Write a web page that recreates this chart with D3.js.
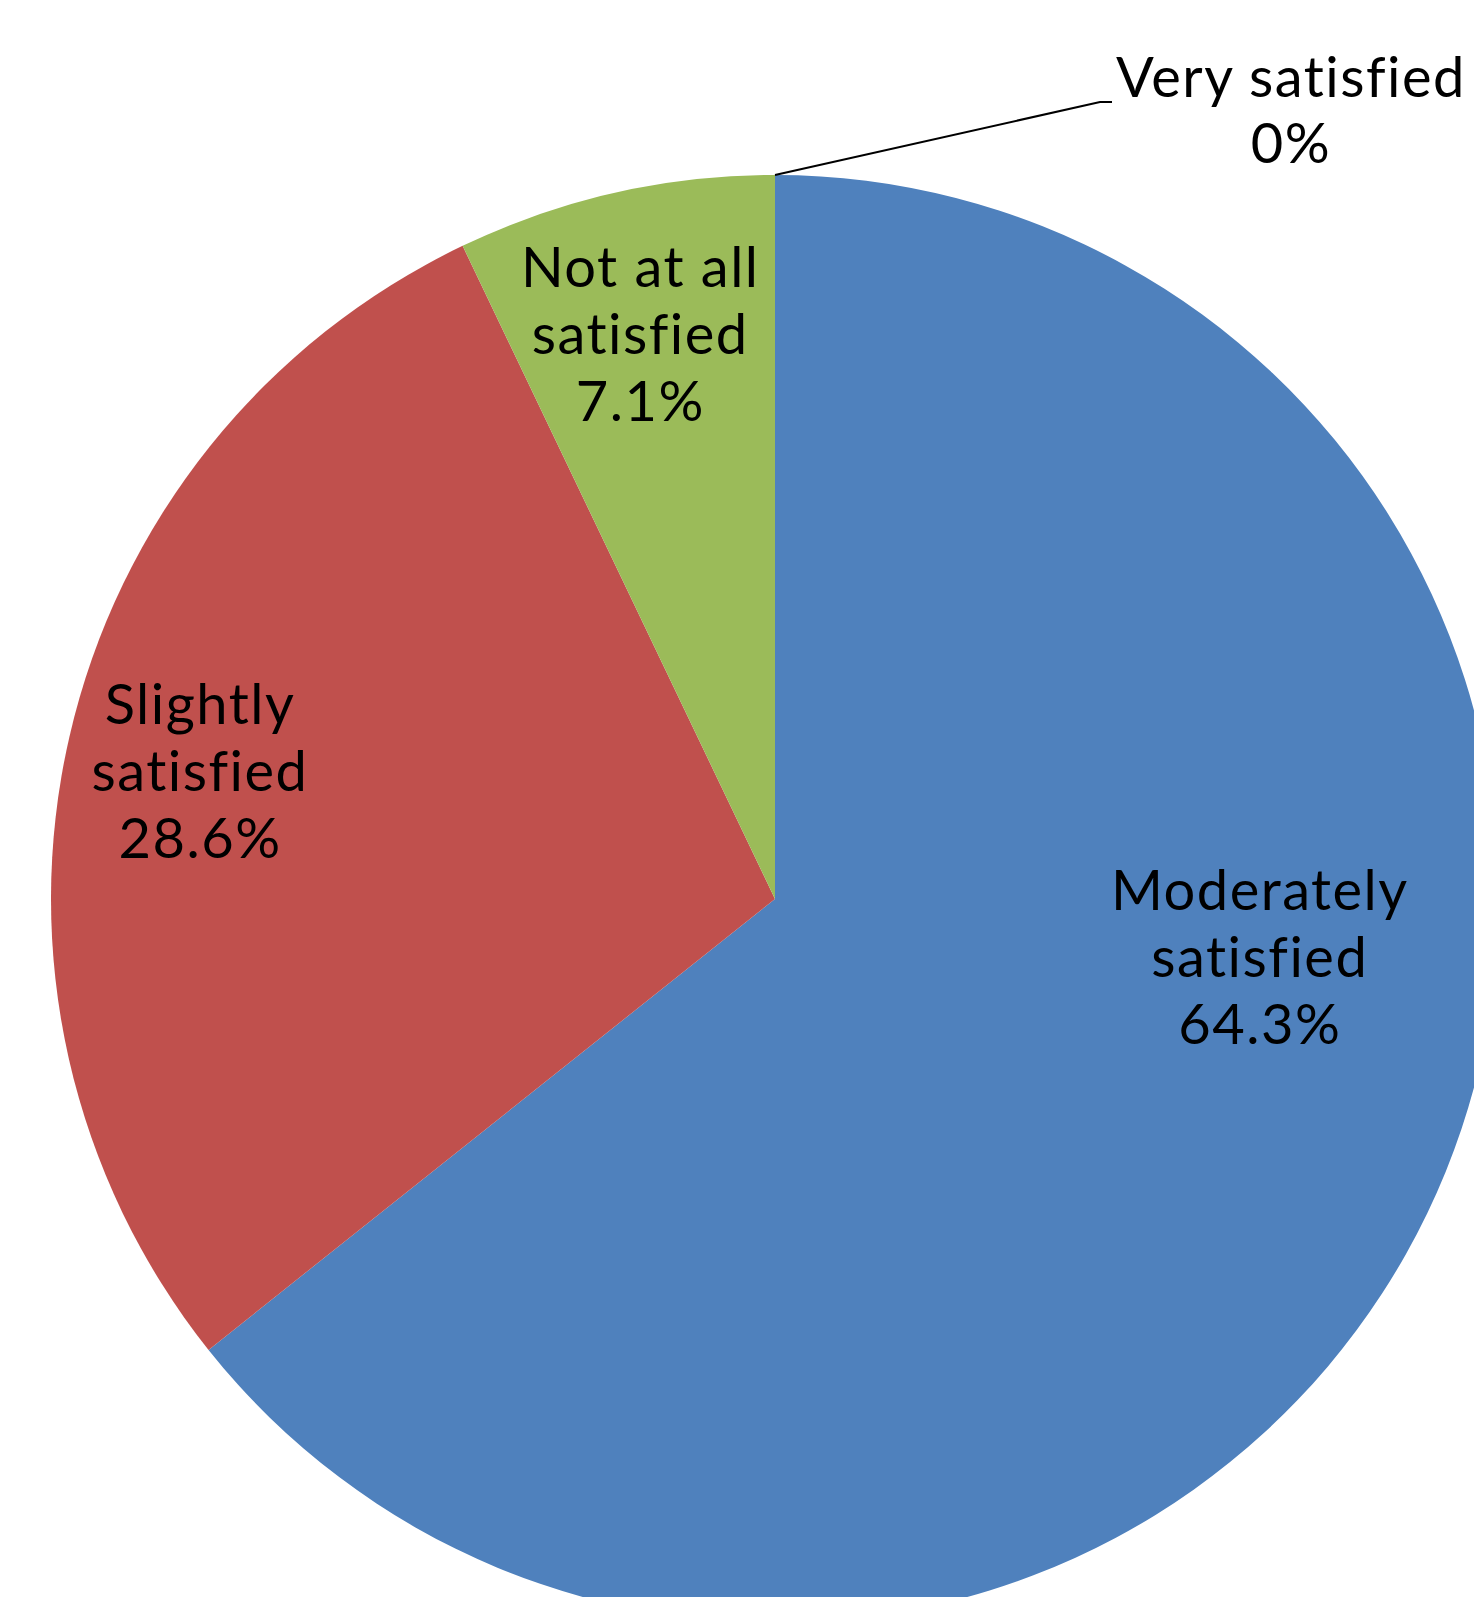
<!DOCTYPE html>
<html>
<head>
<meta charset="utf-8">
<script src="https://cdn.jsdelivr.net/npm/d3@7"></script>
<style>
    body { margin: 0; background: #fff; }
    svg { display: block; }
    .label {
        font-family: Lato, "Liberation Sans", sans-serif;
        font-size: 56px;
        letter-spacing: 1.5px;
        font-variant-ligatures: none;
        fill: #000;
    }
</style>
</head>
<body>
<div id="chart"></div>
<script>
// 数据
const categories = ['Moderately satisfied', 'Slightly satisfied', 'Not at all satisfied', 'Very satisfied'];
const values = [64.3, 28.6, 7.1, 0];
const labelLines = [['Moderately', 'satisfied'], ['Slightly', 'satisfied'], ['Not at all', 'satisfied'], ['Very satisfied']];
const colors = ['#4F81BD', '#C0504D', '#9BBB59', '#8064A2'];

// 布局
const width = 1474;
const height = 1597;
const cx = 775, cy = 899, radius = 724;
const lineGap = 67;
// label anchor (middle line baseline) in polar coords: angle in degrees, distance in px
const labelPolar = [
    {angle: 99.1, dist: 491},
    {angle: 280.6, dist: 585},
    {angle: 346.1, dist: 561},
    null
];
// callout for the 0% slice
const callout = {elbow: [325, -73], end: [337, -73], textX: 516, textY: -78, gap: 66};

const svg = d3.select('#chart').append('svg')
    .attr('width', width)
    .attr('height', height);

const g = svg.append('g')
    .attr('transform', `translate(${cx},${cy})`);

const pie = d3.pie().sort(null).value(d => d);
const arcs = pie(values);

const arc = d3.arc().innerRadius(0).outerRadius(radius);

g.selectAll('.slice')
    .data(arcs)
    .enter()
    .append('path')
    .attr('class', 'slice')
    .attr('d', arc)
    .attr('fill', (d, i) => colors[i]);

const fmt = v => (v === 0 ? '0' : d3.format('.1f')(v)) + '%';

arcs.forEach((d, i) => {
    const lines = labelLines[i].concat([fmt(values[i])]);
    if (labelPolar[i]) {
        const a = labelPolar[i].angle * Math.PI / 180;
        const x = Math.sin(a) * labelPolar[i].dist;
        const y = -Math.cos(a) * labelPolar[i].dist;
        const mid = (lines.length - 1) / 2;
        const t = g.append('text')
            .attr('class', 'label')
            .attr('text-anchor', 'middle');
        lines.forEach((s, k) => {
            t.append('tspan')
                .attr('x', x)
                .attr('y', y + (k - mid) * lineGap)
                .text(s);
        });
    } else {
        // 0% 扇区：引线 + 外部标签
        const a = d.startAngle;
        const px = Math.sin(a) * radius;
        const py = -Math.cos(a) * radius;
        g.append('polyline')
            .attr('points', [[px, py], [px + callout.elbow[0], py + callout.elbow[1]], [px + callout.end[0], py + callout.end[1]]].map(p => p.join(',')).join(' '))
            .attr('fill', 'none')
            .attr('stroke', '#000')
            .attr('stroke-width', 2);
        const t = g.append('text')
            .attr('class', 'label')
            .attr('text-anchor', 'middle');
        lines.forEach((s, k) => {
            t.append('tspan')
                .attr('x', px + callout.textX)
                .attr('y', py + callout.textY + k * callout.gap)
                .text(s);
        });
    }
});
</script>
</body>
</html>
